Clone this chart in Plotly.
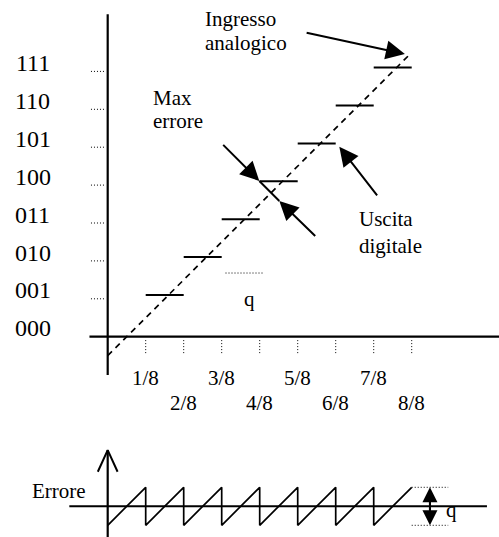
import plotly.graph_objects as go

# ---- data -------------------------------------------------------------
codes = ["000", "001", "010", "011", "100", "101", "110", "111"]
code_levels = [0, 1, 2, 3, 4, 5, 6, 7]
x_tick_labels = ["1/8", "2/8", "3/8", "4/8", "5/8", "6/8", "7/8", "8/8"]
x_tick_pos = [1, 2, 3, 4, 5, 6, 7, 8]          # in units of 1/8
step_start = [1, 2, 3, 4, 5, 6, 7]
step_end = [2, 3, 4, 5, 6, 7, 8]
step_level = [1, 2, 3, 4, 5, 6, 7]
analog_x = [0.0, 7.95]
analog_y = [-0.5, 7.45]
err_x = [0, 1, 1, 2, 2, 3, 3, 4, 4, 5, 5, 6, 6, 7, 7, 8]
err_y = [-0.5, 0.5, -0.5, 0.5, -0.5, 0.5, -0.5, 0.5,
         -0.5, 0.5, -0.5, 0.5, -0.5, 0.5, -0.5, 0.5]

FONT = "Liberation Serif"
BLACK = "black"

fig = go.Figure()


def seg(xs, ys, width=2, dash=None, yaxis="y"):
    fig.add_trace(go.Scatter(x=xs, y=ys, mode="lines", yaxis=yaxis,
                             line=dict(color=BLACK, width=width, dash=dash),
                             hoverinfo="skip", showlegend=False))


# ---- main transfer characteristic ---------------------------------------
seg([0, 0], [-1.01, 8.51], width=2.2)              # vertical axis
seg([-0.48, 10.4], [0, 0], width=2.2)              # horizontal axis

tx, ty = [], []
for t in x_tick_pos:
    tx += [t, t, None]
    ty += [-0.09, -0.44, None]
seg(tx, ty, width=1, dash="1px,2px")

mx, my = [], []
for k in code_levels[1:]:
    mx += [-0.44, -0.07, None]
    my += [k, k, None]
seg(mx, my, width=1, dash="1px,2px")

sx, sy = [], []
for s, e, k in zip(step_start, step_end, step_level):
    sx += [s, e, None]
    sy += [k + 0.1, k + 0.1, None]
seg(sx, sy, width=2)

seg(analog_x, analog_y, width=1.7, dash="6px,5px")
seg([3.1, 4.1], [1.68, 1.68], width=1, dash="1px,2px")   # q width mark
seg([3.99, 4.516], [4.11, 3.58], width=2)                 # between the arrow heads

# ---- error plot -------------------------------------------------------
seg([0, 0], [-0.85, 1.48], width=2.2, yaxis="y2")
seg([-0.26, 0, 0.26], [0.91, 1.48, 0.91], width=2, yaxis="y2")
seg([-1.01, 9.98], [0, 0], width=2, yaxis="y2")
seg(err_x, err_y, width=1.7, yaxis="y2")
seg([8, 8.96, None, 8, 8.96], [0.5, 0.5, None, -0.5, -0.5],
    width=1, dash="1px,2px", yaxis="y2")
seg([8.48, 8.48], [-0.3, 0.3], width=2, yaxis="y2")

ann = []


def text(t, x, y, size=21, xanchor="center", yref="y"):
    ann.append(dict(text=t, x=x, y=y, xref="x", yref=yref, showarrow=False,
                    xanchor=xanchor, yanchor="middle",
                    font=dict(family=FONT, size=size, color=BLACK)))


def arrow(x, y, ax, ay, yref="y", size=1.9):
    ann.append(dict(text="", x=x, y=y, ax=ax, ay=ay, xref="x", yref=yref,
                    axref="x", ayref=yref, showarrow=True, arrowhead=2,
                    arrowsize=size, arrowwidth=2, arrowcolor=BLACK, standoff=0))


for c, k in zip(codes, code_levels):
    text(c, -1.97, k + 0.22, size=24)
for i, (lab, p) in enumerate(zip(x_tick_labels, x_tick_pos)):
    text(lab, p, -1.08 if i % 2 == 0 else -1.76)

text("Ingresso", 2.51, 8.37, xanchor="left")
text("analogico", 2.51, 7.76, xanchor="left")
text("Max", 1.15, 6.31, xanchor="left")
text("errore", 1.15, 5.69, xanchor="left")
text("Uscita", 6.55, 3.1, xanchor="left")
text("digitale", 6.55, 2.4, xanchor="left")
text("q", 3.74, 1.0)
text("Errore", -1.28, 0.40, yref="y2")
text("q", 9.05, -0.09, yref="y2")

arrow(7.82, 7.46, 5.195, 8.03)
arrow(3.99, 4.11, 3.0, 5.10)
arrow(4.516, 3.58, 5.5, 2.62)
arrow(6.095, 5.01, 7.12, 3.69)
arrow(8.48, 0.5, 8.48, 0.0, yref="y2", size=1.5)
arrow(8.48, -0.5, 8.48, 0.0, yref="y2", size=1.5)

fig.update_layout(
    width=499, height=537,
    margin=dict(l=0, r=0, t=0, b=0),
    paper_bgcolor="white", plot_bgcolor="white",
    showlegend=False,
    xaxis=dict(range=[-2.834, 10.297], visible=False, fixedrange=True),
    yaxis=dict(range=[-5.285, 8.884], visible=False, fixedrange=True),
    yaxis2=dict(range=[-0.808, 13.324], visible=False, fixedrange=True,
                overlaying="y"),
    annotations=ann,
)

fig.write_html("out.html", config={"displayModeBar": False},
               post_script="document.body.style.margin='0';")
